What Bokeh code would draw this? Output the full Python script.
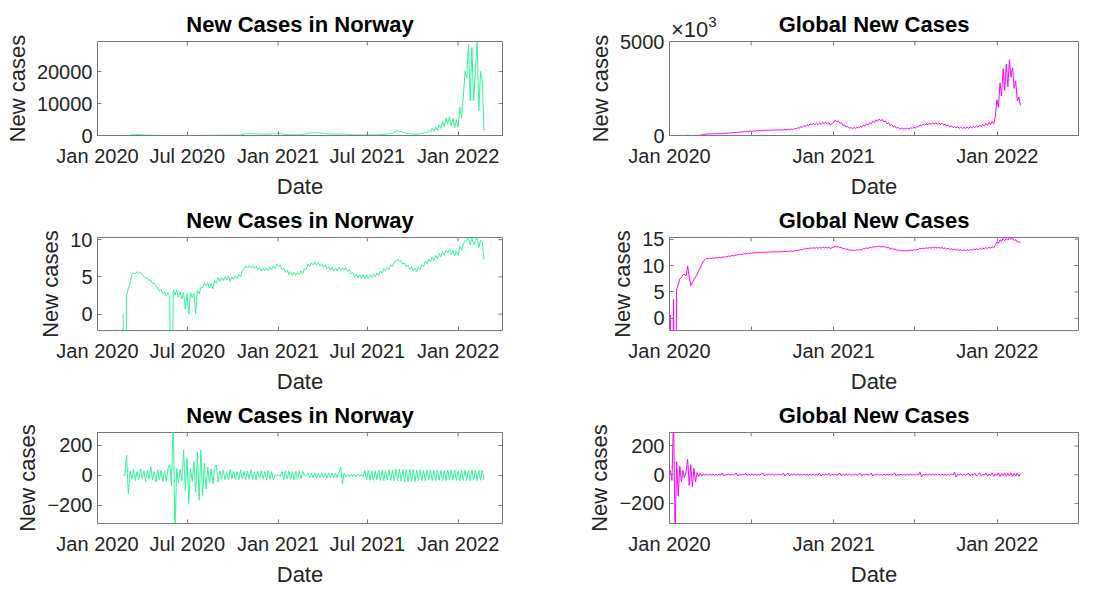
import numpy as np
import pandas as pd
from bokeh.plotting import figure
from bokeh.models import FixedTicker, Range1d, GridBox, Div
from bokeh.embed import file_html
from bokeh.resources import INLINE

# ---------------------------------------------------------------- data
norway_start = "2020-02-22"
norway_new_cases = [
    1, 0, 13, 30, 60, 200, 245, 220, 300, 245,
    270, 200, 165, 120, 135, 90, 100, 60, 67, 40,
    37, 22, 27, 15, 20, 11, 18, 10, 0, 27,
    13, 25, 10, 20, 8, 18, 2, 16, 1, 18,
    9, 16, 1, 25, 15, 37, 33, 67, 45, 67,
    33, 60, 30, 90, 67, 135, 80, 135, 90, 148,
    100, 165, 80, 148, 110, 165, 120, 200, 148, 365,
    400, 665, 490, 665, 490, 665, 445, 600, 400, 545,
    330, 490, 330, 490, 330, 545, 400, 665, 445, 810,
    600, 735, 400, 490, 270, 365, 200, 300, 180, 270,
    180, 270, 200, 330, 220, 445, 400, 810, 600, 990,
    735, 1100, 735, 990, 665, 900, 545, 735, 445, 600,
    365, 545, 330, 490, 330, 545, 365, 545, 365, 490,
    300, 400, 220, 270, 148, 220, 135, 200, 120, 200,
    120, 200, 120, 200, 135, 220, 148, 245, 180, 330,
    245, 445, 330, 545, 400, 735, 600, 1100, 1210, 1640,
    1100, 1340, 810, 990, 600, 735, 400, 600, 330, 490,
    300, 545, 400, 810, 600, 1210, 810, 1640, 1100, 2200,
    1340, 2700, 1640, 3300, 2200, 4450, 2700, 5430, 3640, 6000,
    2980, 5430, 2440, 4900, 2600, 8800, 5400, 12000, 20000, 18000,
    28500, 10900, 27500, 10900, 20000, 29400, 7800, 20000, 17000, 1550,
]
norway_change = [
    0, 0, 135, -122, 30, -25, 40, -35, 25, -30,
    45, -20, 30, -40, 35, -25, 60, -30, 25, -45,
    40, -30, 35, -40, 30, -35, 45, 70, -70, 400,
    -400, 45, -50, 40, -35, 168, -100, 114, -187, 50,
    -40, 92, -112, 157, -165, 168, -133, 82, -90, 55,
    -50, 45, -55, 50, 70, -45, 30, -25, 35, -28,
    26, -30, 40, -22, 28, -26, 25, -30, 38, -24,
    26, -28, 30, -25, 40, -26, 24, -30, 28, -22,
    30, -26, 25, -28, 36, -24, 26, -30, 5, -4,
    4, -5, 26, -28, 30, -24, 28, -26, 25, -30,
    27, -25, 28, -24, 26, 2, -2, 17, -15, 18,
    -16, 15, -18, 16, -14, 17, -16, 15, -17, 18,
    -15, 16, -17, 15, -16, 20, 56, -58, 15, -10,
    10, -9, 8, -10, 9, -8, 10, -9, 8, -10,
    32, -30, 35, -32, 30, -34, 33, -30, 36, -32,
    34, -35, 32, -30, 38, -33, 35, -36, 40, -35,
    42, -38, 40, -43, 38, -40, 43, -38, 40, -42,
    36, -34, 38, -35, 33, -36, 35, -32, 36, -34,
    33, -35, 36, -32, 34, -35, 33, -34, 36, -32,
    34, -33, 35, -34, 32, -35, 34, -33, 36, -34,
    33, -35, 34, -32, 35, -34, 33, -32, 34, -30,
]

global_start = "2020-01-03"
global_new_cases = [
    2, 0, 37, 0, 250, 600, 1700, 2300, 4000, 4000,
    3000, 19000, 2500, 500, 900, 1500, 2500, 4000, 8000, 14000,
    28000, 50000, 65000, 85000, 80000, 90000, 82000, 95000, 85000, 98000,
    88000, 105000, 92000, 112000, 100000, 120000, 110000, 135000, 125000, 145000,
    135000, 160000, 150000, 180000, 165000, 195000, 180000, 210000, 195000, 225000,
    205000, 240000, 220000, 255000, 235000, 265000, 245000, 275000, 255000, 285000,
    260000, 290000, 265000, 295000, 270000, 300000, 275000, 305000, 280000, 310000,
    285000, 315000, 290000, 320000, 295000, 330000, 305000, 345000, 320000, 370000,
    350000, 410000, 390000, 460000, 430000, 520000, 480000, 580000, 530000, 620000,
    560000, 640000, 570000, 650000, 580000, 660000, 590000, 690000, 620000, 700000,
    600000, 680000, 560000, 640000, 700000, 820000, 730000, 780000, 640000, 680000,
    540000, 560000, 450000, 480000, 390000, 420000, 370000, 420000, 380000, 440000,
    400000, 480000, 440000, 540000, 500000, 610000, 560000, 680000, 620000, 760000,
    700000, 830000, 760000, 880000, 780000, 850000, 720000, 780000, 620000, 680000,
    530000, 580000, 460000, 500000, 390000, 430000, 350000, 390000, 340000, 380000,
    340000, 390000, 350000, 410000, 380000, 440000, 400000, 470000, 460000, 560000,
    520000, 600000, 540000, 630000, 570000, 660000, 590000, 680000, 600000, 690000,
    600000, 680000, 580000, 660000, 550000, 620000, 500000, 570000, 460000, 520000,
    420000, 480000, 400000, 460000, 380000, 440000, 370000, 430000, 370000, 440000,
    380000, 460000, 400000, 490000, 420000, 520000, 440000, 560000, 470000, 600000,
    500000, 650000, 540000, 700000, 580000, 750000, 620000, 1000000, 1900000, 1500000,
    2800000, 2100000, 3550000, 2400000, 3800000, 2600000, 4030000, 3100000, 3600000, 2500000,
    2900000, 1850000, 2050000, 1600000,
]
global_change = [
    30, -40, 400, -400, 90, -150, 60, -50, 30, -20,
    20, 108, -75, 70, -85, 45, -50, 15, -12, 10,
    -10, 4, -3, 3, -4, 3, -3, 4, -3, 3,
    -4, 3, -3, 12, -10, 3, -3, 4, -3, 3,
    -3, 4, 10, -9, 3, -3, 4, -3, 10, -8,
    3, -3, 4, -3, 3, -4, 3, -3, 4, 11,
    -9, 3, -3, 4, -3, 3, -4, 3, -3, 4,
    -3, 3, 10, -9, 3, 10, -8, 3, -3, 4,
    -3, 3, -4, 3, -3, 4, -3, 3, -3, 4,
    -3, 3, -4, 3, -3, 11, -9, 3, -3, 4,
    -3, 10, -8, 3, -3, 4, -3, 3, 10, -9,
    3, -3, 4, -3, 3, -4, 3, -3, 4, -3,
    3, 10, -9, 3, -3, 4, -3, 3, 11, -9,
    3, -3, 4, -3, 3, -4, 3, -3, 4, -3,
    3, -3, 4, 12, -10, 3, -3, 4, -3, 3,
    -4, 3, -3, 4, -3, 3, -3, 4, -3, 18,
    -16, 3, -3, 4, -3, 3, -4, 3, -3, 4,
    -3, 3, -3, 4, -3, 3, -4, 3, -3, 4,
    -3, 18, -15, 3, -3, 4, -3, 3, -4, 3,
    9, -8, 4, -3, 10, -9, 3, 12, -10, 4,
    -4, 12, -11, 5, -5, 13, -12, 6, -6, 14,
    -12, 8, -8, 12, -12, 9, -9, 13, -12, 8,
    -9, 12, -11, 6,
]

left_ticks = ["2020-01-01", "2020-07-01", "2021-01-01", "2021-07-01", "2022-01-01"]
left_tick_labels = ["Jan 2020", "Jul 2020", "Jan 2021", "Jul 2021", "Jan 2022"]
right_ticks = ["2020-01-01", "2020-07-01", "2021-01-01", "2021-07-01", "2022-01-01", "2022-07-01"]
right_tick_labels = ["Jan 2020", "", "Jan 2021", "", "Jan 2022", ""]

# ---------------------------------------------------------------- helpers
FONT = "Liberation Sans"
TXT = "#262626"
BOX = "#7a7a7a"
GREEN = "#33f598"
MAGENTA = "#ff00ff"
TICK_LEN = 4  # px, ticks point into the box on all four sides
FRAME_H = 94


def ms(s):
    return pd.Timestamp(s).value // 10**6


norway_dates = pd.date_range(norway_start, periods=len(norway_new_cases), freq="84h")
global_dates = pd.date_range(global_start, periods=len(global_new_cases), freq="84h")

norway_arr = np.array(norway_new_cases, dtype=float)
global_arr = np.array(global_new_cases, dtype=float)
# log of a zero count is -inf; a tiny floor sends the line straight off the bottom
norway_log = np.log(np.clip(norway_arr, 1e-12, None))
global_log = np.log(np.clip(global_arr, 1e-12, None))


def style_axis(ax, ticks, labels=None):
    ax.ticker = FixedTicker(ticks=ticks)
    ax.axis_line_color = BOX
    ax.major_tick_line_color = BOX
    ax.major_tick_in = TICK_LEN
    ax.major_tick_out = 0
    ax.minor_tick_line_color = None
    ax.major_label_text_font = FONT
    ax.major_label_text_color = TXT
    ax.major_label_text_font_size = "20px"
    if labels is not None:
        ax.major_label_overrides = {t: l for t, l in zip(ticks, labels)}
    ax.axis_label_text_font = FONT
    ax.axis_label_text_font_size = "22px"
    ax.axis_label_text_font_style = "normal"
    ax.axis_label_text_color = TXT


def panel(title, x_end, xt, xl, yrange, yticks, width, left, right, top, bottom):
    xticks = [ms(t) for t in xt]
    x0, x1 = ms("2020-01-01"), ms(x_end)
    y0, y1 = yrange
    height = top + FRAME_H + bottom
    p = figure(width=width, height=height, x_axis_type="datetime",
               x_range=Range1d(x0, x1), y_range=Range1d(y0, y1),
               output_backend="svg", toolbar_location=None,
               min_border_left=left, min_border_right=right,
               min_border_top=top, min_border_bottom=bottom)
    p.grid.visible = False
    p.outline_line_color = BOX
    p.background_fill_color = "white"
    p.border_fill_color = "white"

    p.title.text = title
    p.title.align = "center"
    p.title.text_font = FONT
    p.title.text_font_size = "22px"
    p.title.text_font_style = "bold"
    p.title.text_color = "black"
    p.title.standoff = 9

    xa = p.xaxis[0]
    style_axis(xa, xticks, xl)
    xa.major_label_standoff = 9
    xa.axis_label = "Date"
    xa.axis_label_standoff = 4
    ya = p.yaxis[0]
    style_axis(ya, yticks)
    ya.major_label_standoff = 5
    ya.axis_label = "New cases"
    ya.axis_label_standoff = 4

    # tick marks on the top and right edges of the box
    fw = width - left - right
    dy = TICK_LEN * (y1 - y0) / FRAME_H
    dx = TICK_LEN * (x1 - x0) / fw
    p.segment(x0=xticks, x1=xticks, y0=[y1] * len(xticks), y1=[y1 - dy] * len(xticks),
              line_color=BOX, line_width=1)
    p.segment(x0=[x1] * len(yticks), x1=[x1 - dx] * len(yticks), y0=yticks, y1=yticks,
              line_color=BOX, line_width=1)
    return p


LW, RW = 556, 557
L_KW = dict(width=LW, left=97, right=54)
R_KW = dict(width=RW, left=113, right=35)
ROW1 = dict(top=41, bottom=66)
ROW2 = dict(top=35, bottom=66)
ROW3 = dict(top=35, bottom=64)

p1 = panel("New Cases in Norway", "2022-04-01", left_ticks, left_tick_labels,
           (0, 29400), [0, 10000, 20000], **L_KW, **ROW1)
p1.line(norway_dates, norway_arr, color=GREEN, line_width=1)

p2 = panel("Global New Cases", "2022-07-01", right_ticks, right_tick_labels,
           (0, 5000), [0, 5000], **R_KW, **ROW1)
p2.line(global_dates, global_arr / 1000, color=MAGENTA, line_width=1)

# scale factor of the global y axis (values are drawn in thousands),
# laid over the top-left corner of that panel
scale_note = Div(
    text='×10<span style="font-size:15px; position:relative; top:-10px;">3</span>',
    width=200, height=40, margin=0,
    styles={"padding-left": "115px", "padding-top": "18px",
            "font-family": FONT, "font-size": "22px", "line-height": "24px",
            "color": TXT, "pointer-events": "none"},
)

p3 = panel("New Cases in Norway", "2022-04-01", left_ticks, left_tick_labels,
           (-2.2, 10.29), [0, 5, 10], **L_KW, **ROW2)
p3.line(norway_dates, norway_log, color=GREEN, line_width=1)

p4 = panel("Global New Cases", "2022-07-01", right_ticks, right_tick_labels,
           (-2.3, 15.3), [0, 5, 10, 15], **R_KW, **ROW2)
p4.line(global_dates, global_log, color=MAGENTA, line_width=1)

p5 = panel("New Cases in Norway", "2022-04-01", left_ticks, left_tick_labels,
           (-320, 286), [-200, 0, 200], **L_KW, **ROW3)
p5.line(norway_dates, norway_change, color=GREEN, line_width=1)

p6 = panel("Global New Cases", "2022-07-01", right_ticks, right_tick_labels,
           (-340, 294), [-200, 0, 200], **R_KW, **ROW3)
p6.line(global_dates, global_change, color=MAGENTA, line_width=1)

layout = GridBox(children=[(p1, 0, 0), (p2, 0, 1),
                           (p3, 1, 0), (p4, 1, 1),
                           (p5, 2, 0), (p6, 2, 1),
                           (scale_note, 0, 1)],
                 spacing=0)
open("out.html", "w").write(file_html(layout, INLINE))
